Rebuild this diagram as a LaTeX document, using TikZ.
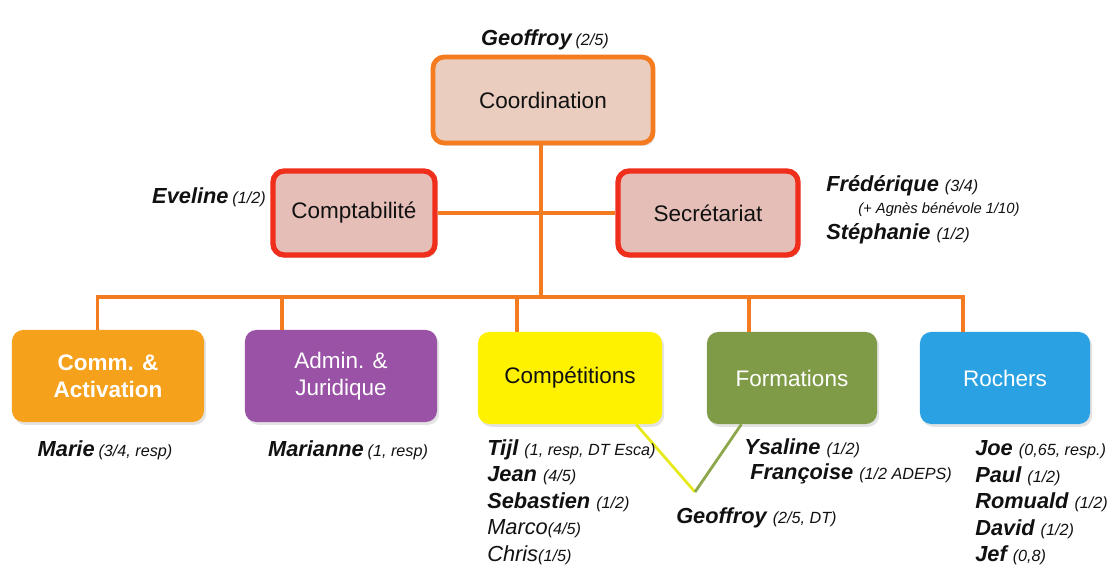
\documentclass[tikz,border=0pt]{standalone}
\usepackage{fontspec}
\setmainfont{Liberation Sans}
\usetikzlibrary{shadows}
\definecolor{textcolor}{HTML}{111111}
\definecolor{linkorange}{HTML}{F47B20}
\definecolor{boardred}{HTML}{EF2E1C}
\definecolor{coordfill}{HTML}{EACDBE}
\definecolor{boardfill}{HTML}{E5BEB8}
\definecolor{commcolor}{HTML}{F6A11B}
\definecolor{admincolor}{HTML}{9A52A6}
\definecolor{compcolor}{HTML}{FFF200}
\definecolor{formcolor}{HTML}{7F9B47}
\definecolor{rockcolor}{HTML}{29A1E2}
\definecolor{complink}{HTML}{E6EA1C}
\definecolor{formlink}{HTML}{8DA84C}
\newcommand{\staffname}[1]{{\fontsize{15.5}{18.8}\selectfont\bfseries\itshape #1}}
\newcommand{\staffshare}[1]{{\fontsize{11.5}{18.8}\selectfont\itshape #1}}
\tikzset{
  base/.style={rounded corners=8pt, align=center, inner sep=3pt, font=\fontsize{16}{19}\selectfont, text=textcolor,
    drop shadow={opacity=0.22, shadow xshift=1.5pt, shadow yshift=-2pt}},
  topbox/.style={base, fill=coordfill, draw=linkorange, line width=3.4pt, minimum width=5.5cm, minimum height=2.15cm},
  boardbox/.style={base, fill=boardfill, draw=boardred, line width=3.8pt, minimum height=2.1cm},
  unit/.style={base, draw=none, minimum width=4.25cm, minimum height=2.3cm},
  people/.style={anchor=west, align=left, inner sep=0pt, text=textcolor, font=\fontsize{15.5}{18.8}\selectfont},
  orgline/.style={draw=linkorange, line width=2.6pt},
  vline/.style={line width=2pt},
}
\begin{document}
\begin{tikzpicture}[x=0.025cm,y=-0.025cm]
  \useasboundingbox (0,0) rectangle (1113,566);

  % governance
  \node[topbox] (coord) at (543,100) {Coordination};
  \node[boardbox, minimum width=4.05cm] (compta) at (354,213) {Comptabilité};
  \node[boardbox, minimum width=4.5cm] (secr) at (708,213) {Secrétariat};

  \node[inner sep=0pt, text=textcolor] (coordwho) at (545,40) {\staffname{Geoffroy} \staffshare{(2/5)}};
  \node[inner sep=0pt, anchor=east, text=textcolor] (comptawho) at (266,197) {\staffname{Eveline} \staffshare{(1/2)}};
  \node[people] (fred) at (826,186) {\staffname{Frédérique} \staffshare{(3/4)}};
  \node[people, font=\fontsize{10.5}{12}\selectfont\itshape] (agnes) at (858,210) {(+ Agnès bénévole 1/10)};
  \node[people] (steph) at (826,234) {\staffname{Stéphanie} \staffshare{(1/2)}};

  % units
  \node[unit, fill=commcolor, text=white, minimum width=4.8cm, font=\fontsize{16}{19}\selectfont\bfseries] (comm) at (108,376) {Comm. \&\\ Activation};
  \node[unit, fill=admincolor, text=white, minimum width=4.8cm] (admin) at (341,376) {Admin. \&\\ Juridique};
  \node[unit, fill=compcolor, minimum width=4.6cm] (comp) at (570,378) {Compétitions};
  \node[unit, fill=formcolor, text=white] (form) at (792,378) {Formations};
  \node[unit, fill=rockcolor, text=white] (rock) at (1005,378) {Rochers};

  \coordinate (bus) at (541,297);
  \coordinate (vtip) at (695,492);

  \draw[orgline] (coord.south -| bus) -- (bus);
  \draw[orgline] (compta.east) -- (secr.west);
  \draw[orgline] ([xshift=-7.5pt]comm.north) |- (bus) -| ([xshift=-30pt]rock.north);
  \draw[orgline] ([xshift=-42pt]admin.north) -- ([xshift=-42pt]admin.north |- bus);
  \draw[orgline] ([xshift=-37.5pt]comp.north) -- ([xshift=-37.5pt]comp.north |- bus);
  \draw[orgline] ([xshift=-30.5pt]form.north) -- ([xshift=-30.5pt]form.north |- bus);

  \draw[vline, draw=complink] ([xshift=47pt]comp.south) -- (vtip);
  \draw[vline, draw=formlink] ([xshift=-36pt]form.south) -- (vtip);

  % staff
  \node[inner sep=0pt, text=textcolor] (commwho) at (105,450) {\staffname{Marie} \staffshare{(3/4, resp)}};
  \node[inner sep=0pt, text=textcolor] (adminwho) at (348,450) {\staffname{Marianne} \staffshare{(1, resp)}};
  \node[people] (compwho) at (487,502) {\staffname{Tijl} \staffshare{(1, resp, DT Esca)}\\
    \staffname{Jean} \staffshare{(4/5)}\\
    \staffname{Sebastien} \staffshare{(1/2)}\\
    \textit{Marco}\staffshare{(4/5)}\\
    \textit{Chris}\staffshare{(1/5)}};
  \node[people] (ysal) at (744,448) {\staffname{Ysaline} \staffshare{(1/2)}};
  \node[people] (franc) at (750,474) {\staffname{Françoise} \staffshare{(1/2 ADEPS)}};
  \node[people] (geodt) at (676,518) {\staffname{Geoffroy} \staffshare{(2/5, DT)}};
  \node[people] (rockwho) at (975,503) {\staffname{Joe} \staffshare{(0,65, resp.)}\\
    \staffname{Paul} \staffshare{(1/2)}\\
    \staffname{Romuald} \staffshare{(1/2)}\\
    \staffname{David} \staffshare{(1/2)}\\
    \staffname{Jef} \staffshare{(0,8)}};
\end{tikzpicture}
\end{document}
